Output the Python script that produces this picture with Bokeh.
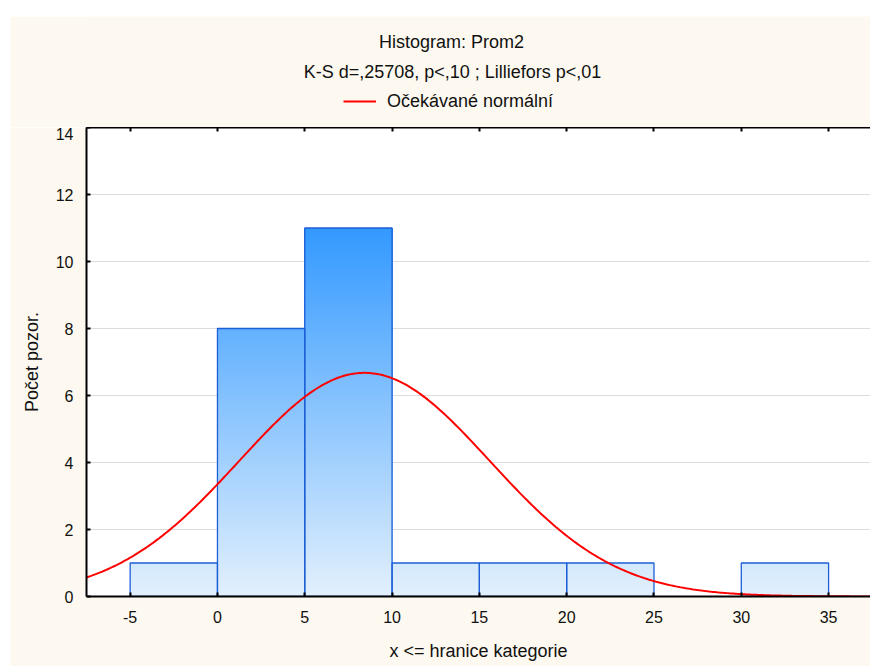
import numpy as np
from bokeh.plotting import figure
from bokeh.models import (ColumnDataSource, Legend, LegendItem, LinearAxis, Label,
                          FixedTicker, Range1d, Spacer)
from bokeh.layouts import column, row
from bokeh.embed import file_html
from bokeh.resources import INLINE

# ---- data ----
bin_left = [-5, 0, 5, 10, 15, 20, 25, 30]
bin_width = 5
counts = [1, 8, 11, 1, 1, 1, 0, 1]
x_ticks = [-5, 0, 5, 10, 15, 20, 25, 30, 35]
y_ticks = [0, 2, 4, 6, 8, 10, 12, 14]
fit_mean = 8.42      # expected-normal curve parameters
fit_sd = 7.17
n_obs = sum(counts)

title_text = "Histogram: Prom2"
subtitle_text = "K-S d=,25708, p<,10 ; Lilliefors p<,01"
legend_text = "Očekávané normální"
x_label = "x <= hranice kategorie"
y_label = "Počet pozor."

FONT = "Liberation Sans"
TXT = "#111111"
CREAM = "#fdf9f0"
RED = "#ff0000"

# expected normal curve values
xs = np.linspace(-7.5, 37.4, 400)
ys = n_obs * bin_width / (fit_sd * np.sqrt(2 * np.pi)) * np.exp(-0.5 * ((xs - fit_mean) / fit_sd) ** 2)
curve_src = ColumnDataSource(dict(x=xs, y=ys))

# ---------------- header (titles + legend) ----------------
HEAD_H = 111
FRAME_W = 784   # header frame is aligned with the main plot frame
head = figure(width=860, height=HEAD_H, x_range=Range1d(0, FRAME_W), y_range=Range1d(HEAD_H, 0),
              output_backend="svg", toolbar_location=None, title=None,
              x_axis_type=None, y_axis_type=None,
              min_border_left=76, min_border_right=0, min_border_top=0, min_border_bottom=0,
              background_fill_color=CREAM, border_fill_color=CREAM, outline_line_color=None)
head.xgrid.visible = False
head.ygrid.visible = False
head.add_layout(Label(x=365, y=25.5, text=title_text, text_align="center",
                      text_baseline="middle", text_font=FONT, text_font_size="18px",
                      text_color=TXT))
head.add_layout(Label(x=366, y=55.5, text=subtitle_text, text_align="center",
                      text_baseline="middle", text_font=FONT, text_font_size="18px",
                      text_color=TXT))
# the key line uses the curve's data on a range where it stays out of sight
head.extra_x_ranges = {"key": Range1d(1000, 2000)}
key_line = head.line("x", "y", source=curve_src, x_range_name="key",
                     line_color=RED, line_width=2)
legend = Legend(items=[LegendItem(label=legend_text, renderers=[key_line])],
                location=(257, 15.5), orientation="horizontal", padding=0, margin=0,
                spacing=0, glyph_width=33, glyph_height=20, label_height=20,
                label_standoff=11, label_text_font=FONT, label_text_font_size="18px",
                label_text_color=TXT, border_line_color=None, background_fill_alpha=0)
head.add_layout(legend)

# ---------------- main plot ----------------
p = figure(width=860, height=650 - HEAD_H, x_range=Range1d(-7.5, 37.4), y_range=Range1d(0, 14),
           output_backend="svg", toolbar_location=None, title=None,
           min_border_left=76, min_border_right=0, min_border_top=0, min_border_bottom=70,
           background_fill_color="white", border_fill_color=CREAM,
           outline_line_color=None)

# gradient bars (colour depends on absolute height)
c0 = np.array([227, 240, 253])
c1 = np.array([51, 153, 255])
ymax = max(counts)
step = 0.05
L, R, B, T, C = [], [], [], [], []
for left, c in zip(bin_left, counts):
    if c <= 0:
        continue
    for y0 in np.arange(0, c, step):
        t = min((y0 + step / 2) / ymax, 1.0)
        col = c0 + (c1 - c0) * t
        L.append(left); R.append(left + bin_width); B.append(y0); T.append(c)
        C.append("#%02x%02x%02x" % tuple(int(round(v)) for v in col))
p.quad(left="l", right="r", bottom="b", top="t", fill_color="c", line_color=None,
       source=ColumnDataSource(dict(l=L, r=R, b=B, t=T, c=C)))

bars = ColumnDataSource(dict(
    l=[b for b, c in zip(bin_left, counts) if c > 0],
    r=[b + bin_width for b, c in zip(bin_left, counts) if c > 0],
    t=[c for c in counts if c > 0]))
p.quad(left="l", right="r", bottom=0, top="t", fill_color=None,
       line_color="#1d5fd6", line_width=1.3, source=bars)

curve = p.line("x", "y", source=curve_src, line_color=RED, line_width=2)

# axes
p.xgrid.visible = False
p.ygrid.grid_line_color = "#dcdcdc"
p.ygrid.grid_line_width = 1
p.ygrid.ticker = FixedTicker(ticks=y_ticks)

for ax in (p.xaxis[0], p.yaxis[0]):
    ax.axis_line_width = 2
    ax.axis_line_color = "black"
    ax.major_tick_in = 4
    ax.major_tick_out = 0
    ax.major_tick_line_width = 2
    ax.minor_tick_line_color = None
    ax.major_label_text_font = FONT
    ax.major_label_text_font_size = "16px"
    ax.major_label_text_color = TXT
    ax.axis_label_text_font = FONT
    ax.axis_label_text_font_size = "18px"
    ax.axis_label_text_font_style = "normal"
    ax.axis_label_text_color = TXT

p.xaxis[0].ticker = FixedTicker(ticks=x_ticks)
p.xaxis[0].major_label_overrides = {t: str(t) for t in x_ticks}
p.yaxis[0].ticker = FixedTicker(ticks=y_ticks)
p.xaxis[0].axis_label = x_label
p.yaxis[0].axis_label = y_label
p.xaxis[0].major_label_standoff = 14
p.xaxis[0].axis_label_standoff = 15
p.yaxis[0].major_label_standoff = 13
p.yaxis[0].axis_label_standoff = 11

# top frame edge with inward ticks, no labels
top_ax = LinearAxis(ticker=FixedTicker(ticks=x_ticks), major_label_text_font_size="0px",
                    major_label_text_color=None,
                    major_tick_in=4, major_tick_out=0, major_tick_line_width=2,
                    minor_tick_line_color=None, axis_line_width=2, axis_line_color="black",
                    major_label_standoff=0)
p.add_layout(top_ax, "above")

layout = column(Spacer(height=16), row(Spacer(width=10), column(head, p)))
open("out.html", "w").write(file_html(layout, INLINE))
